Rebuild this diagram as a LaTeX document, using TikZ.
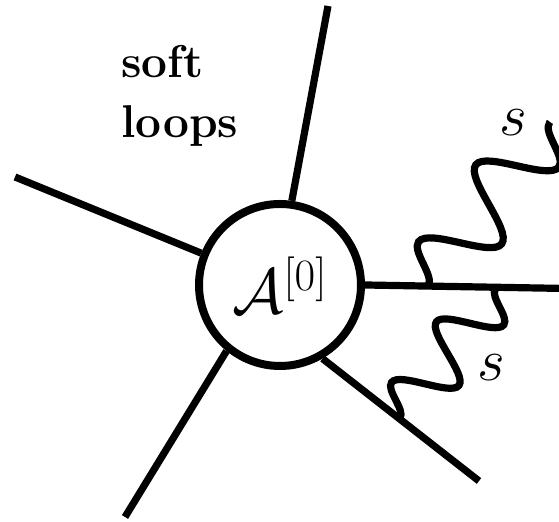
\RequirePackage{fix-cm}
\documentclass[tikz,border=0pt]{standalone}
\usetikzlibrary{decorations.pathmorphing}

\begin{document}
\begin{tikzpicture}[
  x=0.5pt, y=0.5pt,
  leg/.style={line width=3.6pt},
  blob/.style={circle, draw, line width=4pt, minimum size=81pt, inner sep=0pt},
  wiggle/.style={line width=3.6pt, decorate, decoration={snake, segment length=#1}},
  lab/.style={font=\fontsize{30}{34}\selectfont},
]
\useasboundingbox (0,0) rectangle (559,522);
% ---------------- blob and hard legs ----------------
\node[blob, font=\fontsize{32}{36}\selectfont] (amp) at (280,237) {$\mathcal{A}^{[0]}$};
\coordinate (eT)  at (328,516);
\coordinate (eL)  at (15,345);
\coordinate (eR)  at (566,233.5);
\coordinate (eBL) at (125,5);
\coordinate (eBR) at (479,41);
\draw[leg] (amp.82)   -- (eT);
\draw[leg] (amp.158)  -- (eL);
\draw[leg] (amp.0)    -- (eR);
\draw[leg] (amp.-129) -- (eBL);
\draw[leg] (amp.-60)  -- (eBR);

% ---------------- soft exchanges ----------------
\coordinate (w1a) at (428,236);
\coordinate (w1b) at (550,400);
\coordinate (w2a) at (400,104);
\coordinate (w2b) at (497,235);
\draw[wiggle=47.9pt, decoration={amplitude=17pt}] (w1a) -- (w1b);
\draw[wiggle=37.7pt, decoration={amplitude=14pt}] (w2a) -- (w2b);
\node[lab] (s1) at (513,399) {$s$};
\node[lab] (s2) at (491,154) {$s$};

\node[font=\fontsize{23}{30}\selectfont\bfseries, align=left, anchor=base west, inner sep=0pt] (soft) at (121,384) {soft\\loops};
\end{tikzpicture}
\end{document}
